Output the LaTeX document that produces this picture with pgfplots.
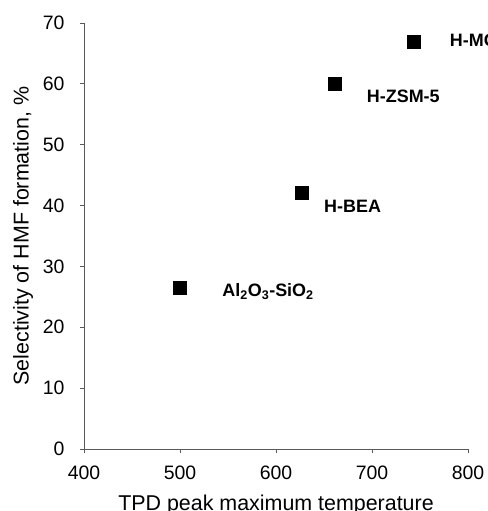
\documentclass[border=0pt]{standalone}
\usepackage{fontspec}
\setmainfont{Liberation Sans}
\usepackage{pgfplots}
\pgfplotsset{compat=1.18}
\usetikzlibrary{calc}

\begin{document}
\begin{tikzpicture}
\begin{axis}[
    name=ax,
    scale only axis,
    width=384bp, height=426bp,
    xmin=400, xmax=800, ymin=0, ymax=70,
    xtick={400,500,...,800},
    ytick={0,10,...,70},
    axis lines=left,
    axis line style={-, gray!70!black, line width=0.8pt},
    tick style={gray!70!black, line width=0.8pt},
    tick align=outside, major tick length=4bp,
    tick label style={font=\fontsize{19.5}{24}\selectfont},
    yticklabel style={xshift=-12bp},
    xticklabel style={yshift=-9bp},
    /pgf/number format/assume math mode=true,
    /pgf/number format/1000 sep={},
    xlabel={TPD peak maximum temperature},
    ylabel={Selectivity of HMF formation, \%},
    label style={font=\fontsize{21.5}{26}\selectfont},
    xlabel style={yshift=-9bp},
    ylabel style={yshift=3bp},
    clip=false,
]
\addplot[only marks, mark=square*, mark size=6.5bp, black]
    coordinates {(500,26.5) (627,42.1) (661,60.0) (743,67.0)};
\begin{scope}[font=\fontsize{18}{22}\selectfont\bfseries]
\node[anchor=west, inner sep=0pt] at (axis cs:544,25.8) {Al\textsubscript{2}O\textsubscript{3}-SiO\textsubscript{2}};
\node[anchor=west, inner sep=0pt] at (axis cs:650,39.8) {H-BEA};
\node[anchor=west, inner sep=0pt] at (axis cs:694.5,58.0) {H-ZSM-5};
\node[anchor=west, inner sep=0pt] at (axis cs:781,67.2) {H-MOR};
\end{scope}
\end{axis}
\pgfresetboundingbox
\path ($(ax.south west)+(-84bp,-62bp)$) rectangle ($(ax.north east)+(19bp,23bp)$);
\end{tikzpicture}
\end{document}
